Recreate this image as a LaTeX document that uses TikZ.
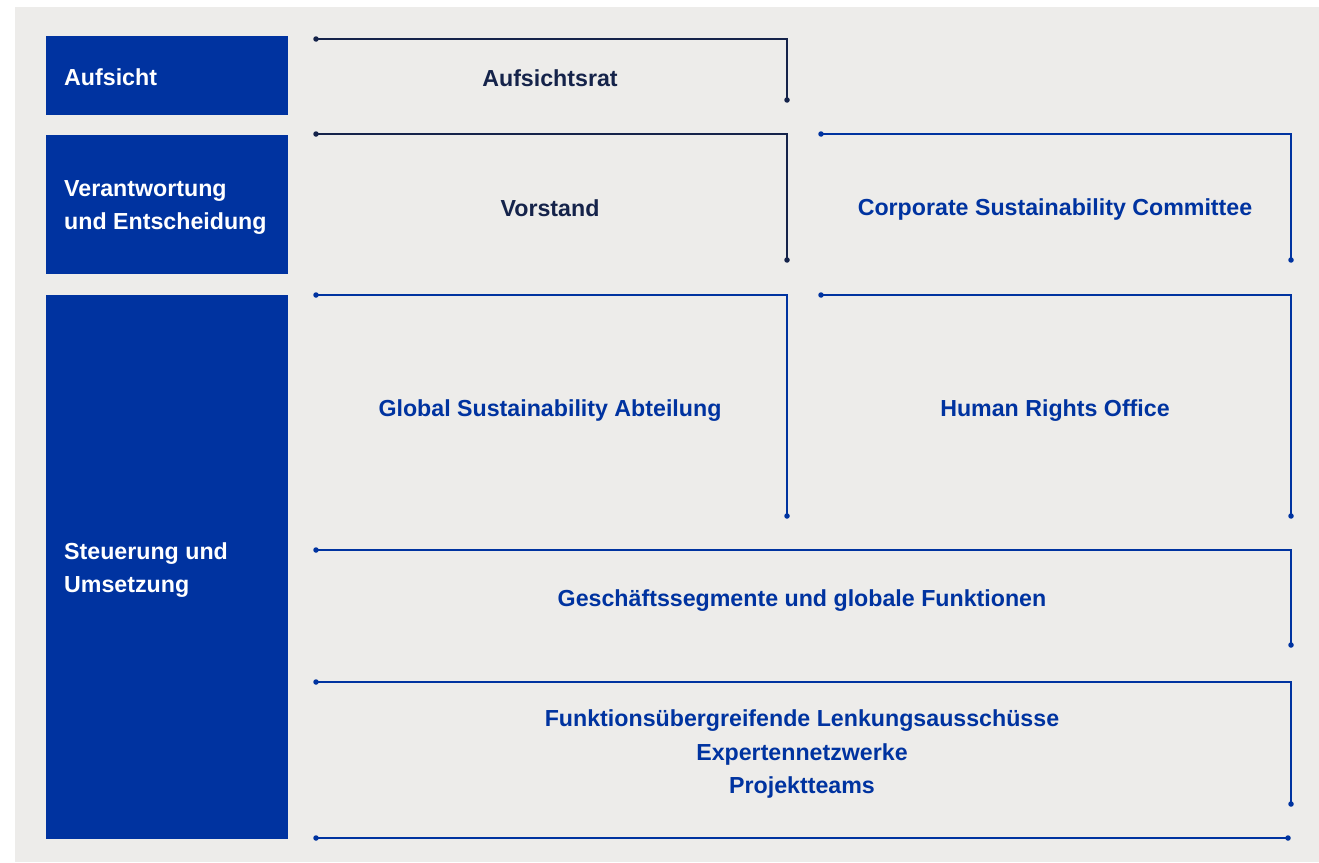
\documentclass[tikz,border=0pt]{standalone}
\usepackage{fontspec}
\setmainfont{Liberation Sans}
\definecolor{bg}{HTML}{EDECEA}
\definecolor{boxblue}{HTML}{0033A0}
\definecolor{navy}{HTML}{15234A}
\begin{document}
\begin{tikzpicture}[x=1pt,y=-1pt,
  every node/.style={font=\fontsize{23.2}{33.5}\selectfont\bfseries, inner sep=0pt},
  lvl/.style={fill=boxblue, draw=none},
  lvltext/.style={text=white, align=left, anchor=west},
  dk/.style={text=navy},
  bl/.style={text=boxblue},
  brk/.style={line width=1.25pt},
  dot/.style={circle, fill, inner sep=0pt, minimum size=5.5pt}]
\useasboundingbox (0,0) rectangle (1319,862);
\fill[white] (0,0) rectangle (1319,862);
\fill[bg] (15,7) rectangle (1319,862);
% level boxes
\fill[lvl] (46,36) rectangle (288,115);
\fill[lvl] (46,135) rectangle (288,274);
\fill[lvl] (46,295) rectangle (288,839);
\node[lvltext] (l1) at (64,77) {Aufsicht};
\node[lvltext] (l2) at (64,207.5) {Verantwortung\\und Entscheidung};
\node[lvltext] (l3) at (64,570) {Steuerung und\\Umsetzung};
% bracket coordinates
\coordinate (a1) at (316,39); \coordinate (a2) at (787,39); \coordinate (a3) at (787,100);
\coordinate (v1) at (316,134); \coordinate (v2) at (787,134); \coordinate (v3) at (787,260);
\coordinate (c1) at (821,134); \coordinate (c2) at (1291,134); \coordinate (c3) at (1291,260);
\coordinate (g1) at (316,295); \coordinate (g2) at (787,295); \coordinate (g3) at (787,516);
\coordinate (h1) at (821,295); \coordinate (h2) at (1291,295); \coordinate (h3) at (1291,516);
\coordinate (s1) at (316,550); \coordinate (s2) at (1291,550); \coordinate (s3) at (1291,645);
\coordinate (f1) at (316,682); \coordinate (f2) at (1291,682); \coordinate (f3) at (1291,804);
\coordinate (b1) at (316,838); \coordinate (b2) at (1288,838);
% brackets
\draw[brk, navy] (a1) -- (a2) -- (a3);
\draw[brk, navy] (v1) -- (v2) -- (v3);
\draw[brk, boxblue] (c1) -- (c2) -- (c3);
\draw[brk, boxblue] (g1) -- (g2) -- (g3);
\draw[brk, boxblue] (h1) -- (h2) -- (h3);
\draw[brk, boxblue] (s1) -- (s2) -- (s3);
\draw[brk, boxblue] (f1) -- (f2) -- (f3);
\draw[brk, boxblue] (b1) -- (b2);
\foreach \p in {a1,a3,v1,v3} \node[dot, navy] at (\p) {};
\foreach \p in {c1,c3,g1,g3,h1,h3,s1,s3,f1,f3,b1,b2} \node[dot, boxblue] at (\p) {};
% texts
\node[dk] (aufsichtsrat) at (550,78) {Aufsichtsrat};
\node[dk] (vorstand) at (550,208) {Vorstand};
\node[bl] (csc) at (1055,209) {Corporate Sustainability Committee};
\node[bl] (gsa) at (550,410.5) {Global Sustainability Abteilung};
\node[bl] (hro) at (1055,410.5) {Human Rights Office};
\node[bl] (gsf) at (802,601) {Geschäftssegmente und globale Funktionen};
\node[bl, align=center] (fla) at (802,754) {Funktionsübergreifende Lenkungsausschüsse\\Expertennetzwerke\\Projektteams};
\end{tikzpicture}
\end{document}
